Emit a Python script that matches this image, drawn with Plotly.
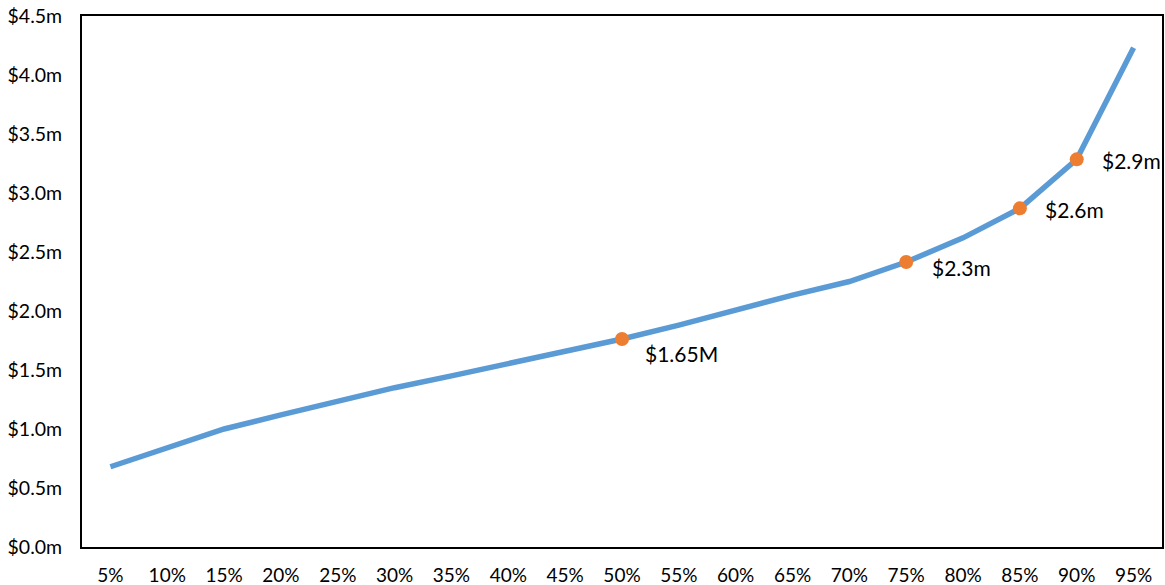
import plotly.graph_objects as go

# Percentile categories along the x axis
percentiles = ["5%", "10%", "15%", "20%", "25%", "30%", "35%", "40%", "45%", "50%",
               "55%", "60%", "65%", "70%", "75%", "80%", "85%", "90%", "95%"]

# Portfolio value at each percentile, in $ millions
values_m = [0.68, 0.84, 1.00, 1.12, 1.24, 1.35, 1.45, 1.555, 1.66, 1.763,
            1.88, 2.01, 2.135, 2.25, 2.415, 2.62, 2.87, 3.285, 4.23]

# Highlighted percentiles and their callout text
highlight_cats = ["50%", "75%", "85%", "90%"]
highlight_text = ["$1.65M", "$2.3m", "$2.6m", "$2.9m"]

# Y axis ticks
y_ticks = [0.0, 0.5, 1.0, 1.5, 2.0, 2.5, 3.0, 3.5, 4.0, 4.5]
y_tick_labels = ["$0.0m", "$0.5m", "$1.0m", "$1.5m", "$2.0m",
                 "$2.5m", "$3.0m", "$3.5m", "$4.0m", "$4.5m"]

lookup = dict(zip(percentiles, values_m))
highlight_vals = [lookup[c] for c in highlight_cats]

FONT = "Lato, 'Open Sans', sans-serif"

fig = go.Figure()
fig.add_trace(go.Scatter(
    x=percentiles, y=values_m, mode="lines",
    line=dict(color="#5B9BD5", width=5.5),
    hoverinfo="skip", showlegend=False,
))
fig.add_trace(go.Scatter(
    x=highlight_cats, y=highlight_vals, mode="markers",
    marker=dict(color="#ED7D31", size=14),
    showlegend=False,
))

# Callout offsets (pixels) for each label
shifts = [(21, -15), (24, -5), (23, -1), (23, -1)]
for cat, val, txt, (dx, dy) in zip(highlight_cats, highlight_vals, highlight_text, shifts):
    fig.add_annotation(
        x=cat, y=val, text=txt, showarrow=False,
        xanchor="left", yanchor="middle", xshift=dx, yshift=dy,
        font=dict(family=FONT, size=21, color="#000000"),
    )

fig.update_layout(
    width=1165, height=585,
    margin=dict(l=82, r=3, t=16, b=38),
    paper_bgcolor="white", plot_bgcolor="white",
    font=dict(family=FONT, size=19, color="#000000"),
)
fig.update_xaxes(
    type="category", range=[-0.5, 18.5], automargin=False,
    showline=True, linecolor="#000000", linewidth=2, mirror=True,
    showgrid=False, zeroline=False, ticks="",
    tickfont=dict(family=FONT, size=19), ticklabelstandoff=10,
)
fig.update_yaxes(
    range=[0, 4.5], tickvals=y_ticks, ticktext=y_tick_labels, automargin=False,
    showline=True, linecolor="#000000", linewidth=2, mirror=True,
    showgrid=False, zeroline=False, ticks="",
    tickfont=dict(family=FONT, size=19.5), ticklabelstandoff=14,
)

fig.write_html("out.html")
